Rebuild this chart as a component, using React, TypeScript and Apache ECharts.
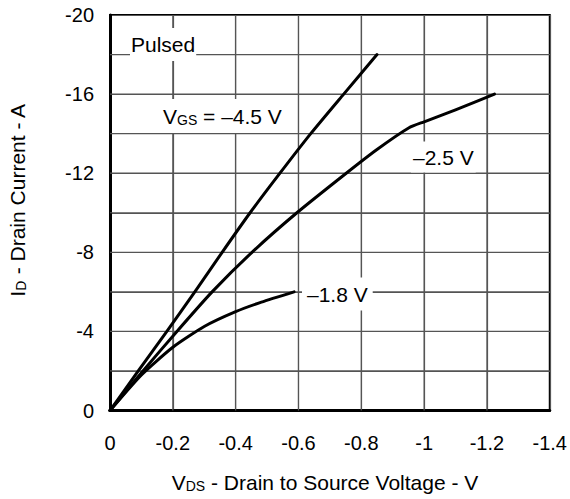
import React, { useEffect, useRef } from "react";
import * as echarts from "echarts";

// Data (V_DS in volts, I_D in amperes)
const vds45 = [0, -0.09, -0.181, -0.27, -0.357, -0.446, -0.541, -0.639, -0.744, -0.85];
const id45 = [0, -2, -4, -6, -8, -10, -12, -14, -16, -18];

const vds25 = [0, -0.105, -0.213, -0.325, -0.452, -0.595, -0.752, -0.85, -0.952, -1.0, -1.1, -1.224];
const id25 = [0, -2, -4, -6, -8, -10, -12, -13.2, -14.3, -14.6, -15.2, -16];

const vds18 = [0, -0.1, -0.2, -0.3, -0.4, -0.482, -0.586];
const id18 = [0, -1.8, -3.2, -4.25, -5.0, -5.48, -6];

const xTicks = [0, -0.2, -0.4, -0.6, -0.8, -1, -1.2, -1.4];
const yTicks = [0, -4, -8, -12, -16, -20];
const xGrid = [-0.2, -0.4, -0.6, -0.8, -1, -1.2];
const yGrid = [-2, -4, -6, -8, -10, -12, -14, -16, -18];

const FONT = "'Liberation Sans', Arial, Helvetica, sans-serif";

const pairs = (xs: number[], ys: number[]) => xs.map((x, i) => [x, ys[i]]);

export default function App() {
  const ref = useRef<HTMLDivElement>(null);
  useEffect(() => {
    if (!ref.current) return;
    const chart = echarts.init(ref.current, undefined, { renderer: "svg" });
    const xMin = xTicks[xTicks.length - 1];
    const xMax = xTicks[0];
    const yMin = yTicks[yTicks.length - 1];
    const yMax = yTicks[0];
    const lineSeries = (name: string, data: number[][]) => ({
      name,
      type: "line",
      data,
      smooth: 0.2,
      showSymbol: false,
      symbol: "none",
      lineStyle: { color: "#000", width: 3, cap: "round", join: "round" },
      z: 5,
    });
    const tickLabelStyle = { color: "#000", fontSize: 20, fontFamily: FONT };
    const gridLineStyle = { color: "#555", width: 1.2 };
    const richTitle = {
      a: { fontSize: 21, fontFamily: FONT, fill: "#000", verticalAlign: "bottom", lineHeight: 22 },
      b: { fontSize: 14, fontFamily: FONT, fill: "#000", verticalAlign: "bottom", lineHeight: 22 },
    };
    const labels: any[] = [
      {
        type: "text",
        x: 130,
        y: 44.5,
        z: 10,
        style: {
          text: "Pulsed",
          fill: "#000",
          font: `21px ${FONT}`,
          verticalAlign: "middle",
          backgroundColor: "#fff",
          padding: [6, 1],
        },
      },
      {
        type: "text",
        x: 160,
        y: 116,
        z: 10,
        style: {
          text: "{a|V}{b|GS}{a| = –4.5 V}",
          verticalAlign: "middle",
          backgroundColor: "#fff",
          padding: [6, 3],
          rich: richTitle,
        },
      },
      {
        type: "text",
        x: 411,
        y: 157,
        z: 10,
        style: {
          text: "–2.5 V",
          fill: "#000",
          font: `21px ${FONT}`,
          verticalAlign: "middle",
          backgroundColor: "#fff",
          padding: [5, 2],
        },
      },
      {
        type: "text",
        x: 302,
        y: 294,
        z: 10,
        style: {
          text: "–1.8 V",
          fill: "#000",
          font: `21px ${FONT}`,
          verticalAlign: "middle",
          backgroundColor: "#fff",
          padding: [6, 5],
        },
      },
      {
        type: "text",
        x: 325,
        y: 482,
        style: {
          text: "{a|V}{b|DS}{a| - Drain to Source Voltage - V}",
          align: "center",
          verticalAlign: "middle",
          rich: richTitle,
        },
      },
      {
        type: "text",
        x: 17,
        y: 200,
        rotation: Math.PI / 2,
        style: {
          text: "{a|I}{b|D}{a| - Drain Current - A}",
          align: "center",
          verticalAlign: "middle",
          rich: richTitle,
        },
      },
    ];
    chart.setOption({
      animation: false,
      grid: {
        left: 110,
        right: 19.5,
        top: 15,
        bottom: 88.5,
        show: true,
        borderColor: "#000",
        borderWidth: 2,
        backgroundColor: "rgba(0,0,0,0)",
      },
      xAxis: {
        type: "value",
        min: xMin,
        max: xMax,
        interval: 0.2,
        inverse: true,
        axisLine: { show: true, onZero: false, lineStyle: { color: "#000", width: 3 } },
        axisTick: { show: false },
        axisLabel: { ...tickLabelStyle, margin: 22 },
        splitLine: { show: true, lineStyle: gridLineStyle },
      },
      yAxis: {
        type: "value",
        min: yMin,
        max: yMax,
        interval: 2,
        inverse: true,
        axisLine: { show: true, onZero: false, lineStyle: { color: "#000", width: 3 } },
        axisTick: { show: false },
        axisLabel: {
          ...tickLabelStyle,
          margin: 16,
          formatter: (v: number) => (yTicks.includes(v) ? String(v) : ""),
        },
        splitLine: { show: true, lineStyle: gridLineStyle },
      },
      series: [
        lineSeries("-4.5 V", pairs(vds45, id45)),
        lineSeries("-2.5 V", pairs(vds25, id25)),
        lineSeries("-1.8 V", pairs(vds18, id18)),
      ],
      graphic: labels,
    });

    // Grid lines as thin filled rectangles, placed through the chart's own scales
    const top = chart.convertToPixel({ yAxisIndex: 0 }, yMin) as number;
    const bottom = chart.convertToPixel({ yAxisIndex: 0 }, yMax) as number;
    const left = chart.convertToPixel({ xAxisIndex: 0 }, xMax) as number;
    const right = chart.convertToPixel({ xAxisIndex: 0 }, xMin) as number;
    const gridRects: any[] = [
      ...xGrid.map((v) => {
        const px = chart.convertToPixel({ xAxisIndex: 0 }, v) as number;
        return {
          type: "rect",
          z: 1,
          silent: true,
          shape: { x: px - 0.6, y: top, width: 1.2, height: bottom - top },
          style: { fill: "#555" },
        };
      }),
      ...yGrid.map((v) => {
        const py = chart.convertToPixel({ yAxisIndex: 0 }, v) as number;
        return {
          type: "rect",
          z: 1,
          silent: true,
          shape: { x: left, y: py - 0.6, width: right - left, height: 1.2 },
          style: { fill: "#555" },
        };
      }),
    ];
    chart.setOption({ graphic: [...labels, ...gridRects] });
    return () => chart.dispose();
  }, []);
  return (
    <div
      ref={ref}
      style={{ position: "absolute", left: 0, top: 0, width: 570, height: 499, background: "#fff" }}
    />
  );
}
